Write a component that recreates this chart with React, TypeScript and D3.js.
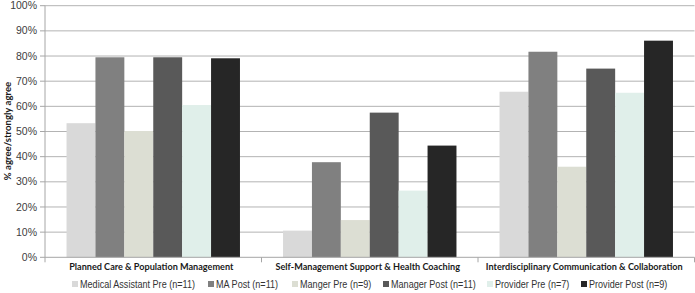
import React from "react";
import * as d3 from "d3";

const categories = [
  "Planned Care & Population Management",
  "Self-Management Support & Health Coaching",
  "Interdisciplinary Communication & Collaboration",
];
const seriesNames = [
  "Medical Assistant Pre (n=11)",
  "MA Post (n=11)",
  "Manger Pre (n=9)",
  "Manager Post (n=11)",
  "Provider Pre (n=7)",
  "Provider Post (n=9)",
];
const maPre = [53.3, 10.6, 65.8];
const maPost = [79.5, 37.8, 81.7];
const managerPre = [50.2, 14.8, 36.0];
const managerPost = [79.5, 57.5, 75.0];
const providerPre = [60.5, 26.5, 65.4];
const providerPost = [79.1, 44.4, 86.1];
const seriesValues = [maPre, maPost, managerPre, managerPost, providerPre, providerPost];
const yTicks = [0, 10, 20, 30, 40, 50, 60, 70, 80, 90, 100];
const colors = ["#d9d9d9", "#808080", "#dcded3", "#595959", "#e0efea", "#262626"];
const legendX = [72, 208, 292, 383, 487, 581];

export default function App() {
  const W = 695, H = 293;
  const left = 45, right = 694.5, top = 5.7, bottom = 257.3;
  const x0 = d3.scaleBand<string>().domain(categories).range([left, right]).paddingInner(0).paddingOuter(0);
  const x1 = d3.scaleBand<number>().domain(d3.range(seriesNames.length)).range([0, x0.bandwidth()]).paddingInner(0).paddingOuter(0.745);
  const y = d3.scaleLinear().domain([0, 100]).range([bottom, top]);
  const sans = "'Liberation Sans', Arial, sans-serif";
  const bold = "Lato, 'Open Sans', sans-serif";
  const boundaries = [left, ...categories.map((c) => (x0(c) as number) + x0.bandwidth())];
  return (
    <svg width={W} height={H} style={{ position: "absolute", left: 0, top: 0 }}>
      <rect width={W} height={H} fill="#ffffff" />
      {yTicks.map((t) => (
        <g key={t}>
          {t > 0 && <line x1={left} x2={right} y1={y(t)} y2={y(t)} stroke="#b3b3b3" strokeWidth={1} />}
          <line x1={left - 5} x2={left} y1={y(t)} y2={y(t)} stroke="#a6a6a6" strokeWidth={1} />
          <text x={37} y={y(t) + 3.6} textAnchor="end" fontFamily={sans} fontSize={10.5} fill="#404040">
            {t}%
          </text>
        </g>
      ))}
      {seriesValues.map((vals, si) =>
        vals.map((v, ci) => (
          <rect
            key={`${si}-${ci}`}
            x={(x0(categories[ci]) as number) + (x1(si) as number)}
            y={y(v)}
            width={x1.bandwidth()}
            height={bottom - y(v)}
            fill={colors[si]}
          />
        ))
      )}
      <line x1={left} x2={left} y1={top} y2={bottom} stroke="#a6a6a6" strokeWidth={1} />
      <line x1={left} x2={right} y1={bottom} y2={bottom} stroke="#a6a6a6" strokeWidth={1} />
      {boundaries.map((b, i) => (
        <line key={i} x1={b} x2={b} y1={bottom} y2={bottom + 5} stroke="#a6a6a6" strokeWidth={1} />
      ))}
      {categories.map((c) => (
        <text
          key={c}
          x={(x0(c) as number) + x0.bandwidth() / 2 - 2}
          y={270}
          textAnchor="middle"
          fontFamily={bold}
          fontWeight="bold"
          fontSize={9.1}
          fill="#1a1a1a"
        >
          {c}
        </text>
      ))}
      <text
        transform={`translate(11,${131}) rotate(-90)`}
        textAnchor="middle"
        fontFamily={bold}
        fontWeight="bold"
        fontSize={9.6}
        fill="#1a1a1a"
      >
        % agree/strongly agree
      </text>
      {seriesNames.map((s, i) => (
        <g key={s}>
          <rect x={legendX[i]} y={281} width={6} height={6} fill={colors[i]} />
          <text
            transform={`translate(${legendX[i] + 8},288) scale(0.84,1)`}
            fontFamily={sans}
            fontSize={10.8}
            fill="#333333"
          >
            {s}
          </text>
        </g>
      ))}
    </svg>
  );
}
